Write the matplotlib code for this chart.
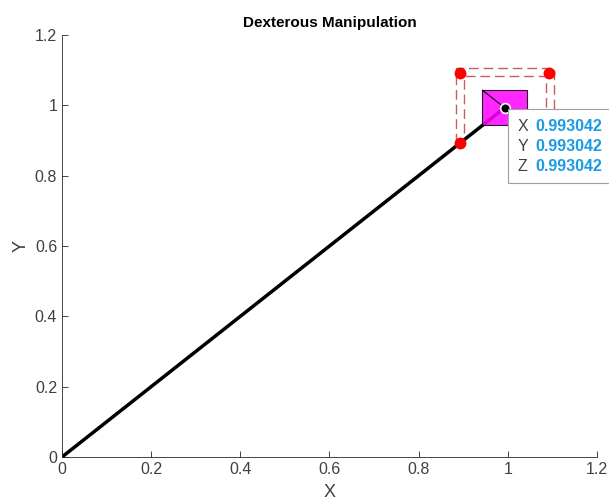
import matplotlib.pyplot as plt
import matplotlib.patches as mpatches

plt.rcParams['font.family'] = ['Liberation Sans', 'DejaVu Sans']

# brazo principal
arm_x = [0, 0.993042]
arm_y = [0, 0.993042]

# articulaciones (puntos rojos)
joint_x = [0.893, 0.893, 1.093]
joint_y = [0.893, 1.093, 1.093]

# contornos de los dedos (discontinuos)
outer_x = [0.884, 0.884, 1.104, 1.104]
outer_y = [0.893, 1.106, 1.106, 0.90]
inner_x = [0.902, 0.902, 1.086, 1.086]
inner_y = [0.92, 1.083, 1.083, 0.93]

# objeto manipulado
obj_cx, obj_cy = 0.993042, 0.993042
obj_size = 0.1

tip_vals = [0.993042, 0.993042, 0.993042]
tip_names = ['X', 'Y', 'Z']

ticks = [0, 0.2, 0.4, 0.6, 0.8, 1, 1.2]
tick_labels = ['0', '0.2', '0.4', '0.6', '0.8', '1', '1.2']

gray = '#404040'

fig = plt.figure(figsize=(6.09, 5), dpi=100)
ax = fig.add_axes([0.1018, 0.086, 0.8785, 0.844])

ax.plot(arm_x, arm_y, '-k', lw=2.5, zorder=2)
ax.plot(outer_x, outer_y, '--', color='#c04040', lw=1, dashes=(7, 3.5), alpha=0.85, zorder=3)
ax.plot(inner_x, inner_y, '--', color='#c04040', lw=1, dashes=(7, 3.5), alpha=0.85, zorder=3)

h = obj_size / 2
sq = mpatches.Rectangle((obj_cx - h, obj_cy - h), obj_size, obj_size,
                        facecolor='#ff00ff', edgecolor='black', lw=0.8,
                        alpha=0.85, zorder=4)
ax.add_patch(sq)
ax.plot([obj_cx - h, obj_cx], [obj_cy + h, obj_cy], '-k', lw=0.8, zorder=5)

ax.plot(joint_x, joint_y, 'o', color='red', ms=7.5, zorder=6)
ax.plot([obj_cx], [obj_cy], 'o', color='black', mec='white', mew=1.2, ms=7, zorder=7)

# data tip
tip = mpatches.FancyBboxPatch((1.0, 0.779), 0.245, 0.21,
                              boxstyle='square,pad=0', facecolor='white',
                              edgecolor='#a0a0a0', lw=0.8, clip_on=False, zorder=8)
ax.add_patch(tip)
for i, (n, v) in enumerate(zip(tip_names, tip_vals)):
    yy = 0.939 - i * 0.056
    ax.text(1.021, yy, n, fontsize=11.5, color='#404040', va='center',
            clip_on=False, zorder=9)
    ax.text(1.062, yy, '%.6f' % v, fontsize=11.5, color='#1a9be6',
            fontweight='bold', va='center', clip_on=False, zorder=9)

ax.set_xlim(0, 1.2)
ax.set_ylim(0, 1.2)
ax.set_xticks(ticks)
ax.set_xticklabels(tick_labels)
ax.set_yticks(ticks)
ax.set_yticklabels(tick_labels)
ax.spines['top'].set_visible(False)
ax.spines['right'].set_visible(False)
for s in ['left', 'bottom']:
    ax.spines[s].set_color('#262626')
    ax.spines[s].set_linewidth(0.6)
ax.tick_params(direction='in', length=4, width=0.6, colors='#262626',
               labelcolor=gray, labelsize=11.5)

ax.set_title('Dexterous Manipulation', fontsize=11, fontweight='bold', color='black')
ax.set_xlabel('X', fontsize=13, color=gray, labelpad=5)
ax.set_ylabel('Y', fontsize=13, color=gray, labelpad=4)

plt.savefig('out.png')
